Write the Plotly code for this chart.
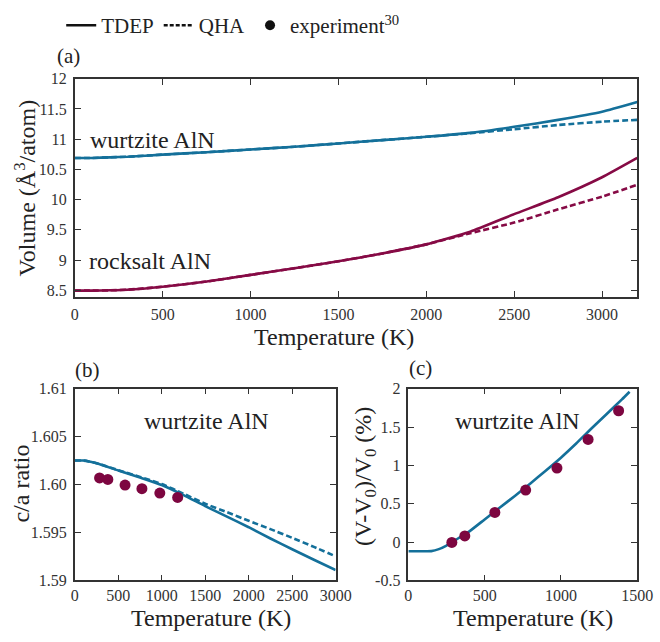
import plotly.graph_objects as go

# ---------------- data ----------------
# (a) volume vs temperature
T_a = [0, 100, 200, 300, 500, 750, 1000, 1250, 1500, 1750, 2000, 2250, 2500, 2750, 3000, 3200]
wz_tdep = [10.69, 10.69, 10.70, 10.71, 10.745, 10.785, 10.83, 10.875, 10.93, 10.985, 11.04, 11.105, 11.205, 11.32, 11.455, 11.615]
wz_qha = [10.69, 10.69, 10.70, 10.71, 10.745, 10.785, 10.83, 10.875, 10.93, 10.985, 11.04, 11.10, 11.165, 11.235, 11.29, 11.32]
rs_tdep = [8.495, 8.495, 8.50, 8.51, 8.56, 8.645, 8.755, 8.865, 8.98, 9.11, 9.26, 9.47, 9.76, 10.04, 10.37, 10.69]
rs_qha = [8.495, 8.495, 8.50, 8.51, 8.56, 8.645, 8.755, 8.865, 8.98, 9.11, 9.26, 9.445, 9.62, 9.84, 10.05, 10.245]

# (b) c/a ratio
T_b = [0, 100, 250, 500, 750, 1000, 1250, 1500, 1750, 2000, 2250, 2500, 2750, 3000]
ca_tdep = [1.6025, 1.6025, 1.60222, 1.60147, 1.60073, 1.59995, 1.59890, 1.59775, 1.59665, 1.59555, 1.59437, 1.59325, 1.59216, 1.59108]
ca_qha = [1.6025, 1.6025, 1.60223, 1.60150, 1.60080, 1.60005, 1.59905, 1.59799, 1.59712, 1.59622, 1.59535, 1.59444, 1.59350, 1.59251]
T_exp_b = [285, 380, 578, 772, 978, 1183]
ca_exp = [1.60069, 1.60053, 1.59995, 1.59957, 1.59911, 1.59866]

# (c) relative volume change
T_c = [0, 50, 100, 150, 200, 250, 300, 350, 400, 500, 600, 700, 800, 900, 1000, 1100, 1200, 1300, 1400, 1450]
dv_tdep = [-0.12, -0.12, -0.12, -0.118, -0.092, -0.045, 0.015, 0.078, 0.14, 0.295, 0.45, 0.605, 0.765, 0.93, 1.10, 1.285, 1.48, 1.67, 1.86, 1.96]
T_exp_c = [285, 370, 567, 769, 974, 1178, 1378]
dv_exp = [-0.005, 0.08, 0.387, 0.678, 0.965, 1.338, 1.712]

# ticks
a_xticks = [0, 500, 1000, 1500, 2000, 2500, 3000]
a_yticks = [8.5, 9, 9.5, 10, 10.5, 11, 11.5, 12]
a_ytext = ["8.5", "9", "9.5", "10", "10.5", "11", "11.5", "12"]
b_xticks = [0, 500, 1000, 1500, 2000, 2500, 3000]
b_yticks = [1.59, 1.595, 1.60, 1.605, 1.61]
b_ytext = ["1.59", "1.595", "1.60", "1.605", "1.61"]
c_xticks = [0, 500, 1000, 1500]
c_yticks = [-0.5, 0, 0.5, 1, 1.5, 2]
c_ytext = ["-0.5", "0", "0.5", "1", "1.5", "2"]

BLUE = "#14709a"
RED = "#860a45"
DOT = "#7d0640"
FONT = "Liberation Serif, Times New Roman, serif"
TXT = "#222222"
W, H = 660, 642

def px(x):
    return x / W

def py(y):
    return 1 - y / H

fig = go.Figure()

lw = 2.6
dash = "6px,3px"
sp = dict(shape="spline", smoothing=0.5)
# panel a
fig.add_trace(go.Scatter(x=T_a, y=wz_qha, mode="lines", line=dict(color=BLUE, width=lw, dash=dash, **sp), xaxis="x", yaxis="y", showlegend=False))
fig.add_trace(go.Scatter(x=T_a, y=rs_qha, mode="lines", line=dict(color=RED, width=lw, dash=dash, **sp), xaxis="x", yaxis="y", showlegend=False))
fig.add_trace(go.Scatter(x=T_a, y=wz_tdep, mode="lines", line=dict(color=BLUE, width=lw, **sp), xaxis="x", yaxis="y", showlegend=False))
fig.add_trace(go.Scatter(x=T_a, y=rs_tdep, mode="lines", line=dict(color=RED, width=lw, **sp), xaxis="x", yaxis="y", showlegend=False))
# panel b
fig.add_trace(go.Scatter(x=T_b, y=ca_qha, mode="lines", line=dict(color=BLUE, width=lw, dash=dash, **sp), xaxis="x2", yaxis="y2", showlegend=False))
fig.add_trace(go.Scatter(x=T_b, y=ca_tdep, mode="lines", line=dict(color=BLUE, width=lw, **sp), xaxis="x2", yaxis="y2", showlegend=False))
fig.add_trace(go.Scatter(x=T_exp_b, y=ca_exp, mode="markers", marker=dict(color=DOT, size=11), xaxis="x2", yaxis="y2", showlegend=False))
# panel c
fig.add_trace(go.Scatter(x=T_c, y=dv_tdep, mode="lines", line=dict(color=BLUE, width=lw, **sp), xaxis="x3", yaxis="y3", showlegend=False))
fig.add_trace(go.Scatter(x=T_exp_c, y=dv_exp, mode="markers", marker=dict(color=DOT, size=11), xaxis="x3", yaxis="y3", showlegend=False))

# legend entries
fig.add_trace(go.Scatter(x=[None], y=[None], mode="lines", line=dict(color="#111", width=2.6), name="TDEP"))
fig.add_trace(go.Scatter(x=[None], y=[None], mode="lines", line=dict(color="#111", width=2.6, dash="4px,2px"), name="QHA"))
fig.add_trace(go.Scatter(x=[None], y=[None], mode="markers", marker=dict(color="#111", size=10), name="experiment<sup>30</sup>"))

def axis(size=16, standoff=None):
    d = dict(showgrid=False, zeroline=False, showline=True, linecolor="#333", linewidth=1.5,
             mirror="ticks", ticks="inside", ticklen=6, tickwidth=1.4, tickcolor="#333",
             tickfont=dict(family=FONT, size=size, color="#333"))
    if standoff is not None:
        d["ticklabelstandoff"] = standoff
    return d

fig.update_layout(
    width=W, height=H,
    margin=dict(l=0, r=0, t=0, b=0),
    paper_bgcolor="white", plot_bgcolor="white",
    font=dict(family=FONT, color=TXT),
    xaxis=dict(domain=[px(73), px(653)], range=[0, 3200], tickvals=a_xticks, anchor="y", **axis(16, 2)),
    yaxis=dict(domain=[py(297), py(72.7)], range=[8.387, 12], tickvals=a_yticks, ticktext=a_ytext, anchor="x", **axis(16, 3)),
    xaxis2=dict(domain=[px(73), px(342)], range=[0, 3000], tickvals=b_xticks, anchor="y2", **axis(16, 0)),
    yaxis2=dict(domain=[py(588), py(391)], range=[1.59, 1.61], tickvals=b_yticks, ticktext=b_ytext, anchor="x2", **axis(16, 3)),
    xaxis3=dict(domain=[px(417), px(653)], range=[0, 1500], tickvals=c_xticks, anchor="y3", **axis(16, 0)),
    yaxis3=dict(domain=[py(588), py(391)], range=[-0.5, 2], tickvals=c_yticks, ticktext=c_ytext, anchor="x3", **axis(16, 3)),
    legend=dict(orientation="h", x=px(59), y=py(-3), xanchor="left", yanchor="top",
                font=dict(family=FONT, size=21, color=TXT), bgcolor="rgba(0,0,0,0)",
                itemwidth=30, tracegroupgap=0),
)

def ann(text, x, y, size=24, angle=0, xanchor="center"):
    fig.add_annotation(text=text, x=px(x), y=py(y), xref="paper", yref="paper",
                       showarrow=False, textangle=angle, xanchor=xanchor, yanchor="middle",
                       font=dict(family=FONT, size=size, color=TXT))

ann("(a)", 67, 49, size=21)
ann("(b)", 86, 372, size=21)
ann("(c)", 430, 370, size=21)
ann("wurtzite AlN", 87, 136, size=24, xanchor="left")
ann("rocksalt AlN", 86, 260, size=24, xanchor="left")
ann("wurtzite AlN", 142, 424, size=24, xanchor="left")
ann("wurtzite AlN", 463, 424, size=24, xanchor="left")
ann("Temperature (K)", 340, 338, size=24)
ann("Temperature (K)", 213, 627, size=24)
ann("Temperature (K)", 546, 627, size=24)
ann("Volume (Å<sup>3</sup>/atom)", 22, 185, size=24, angle=-90)
ann("c/a ratio", 18, 488, size=24, angle=-90)
ann("(V-V<sub>0</sub>)/V<sub>0</sub> (%)", 373, 481, size=24, angle=-90)

fig.write_html("out.html")
